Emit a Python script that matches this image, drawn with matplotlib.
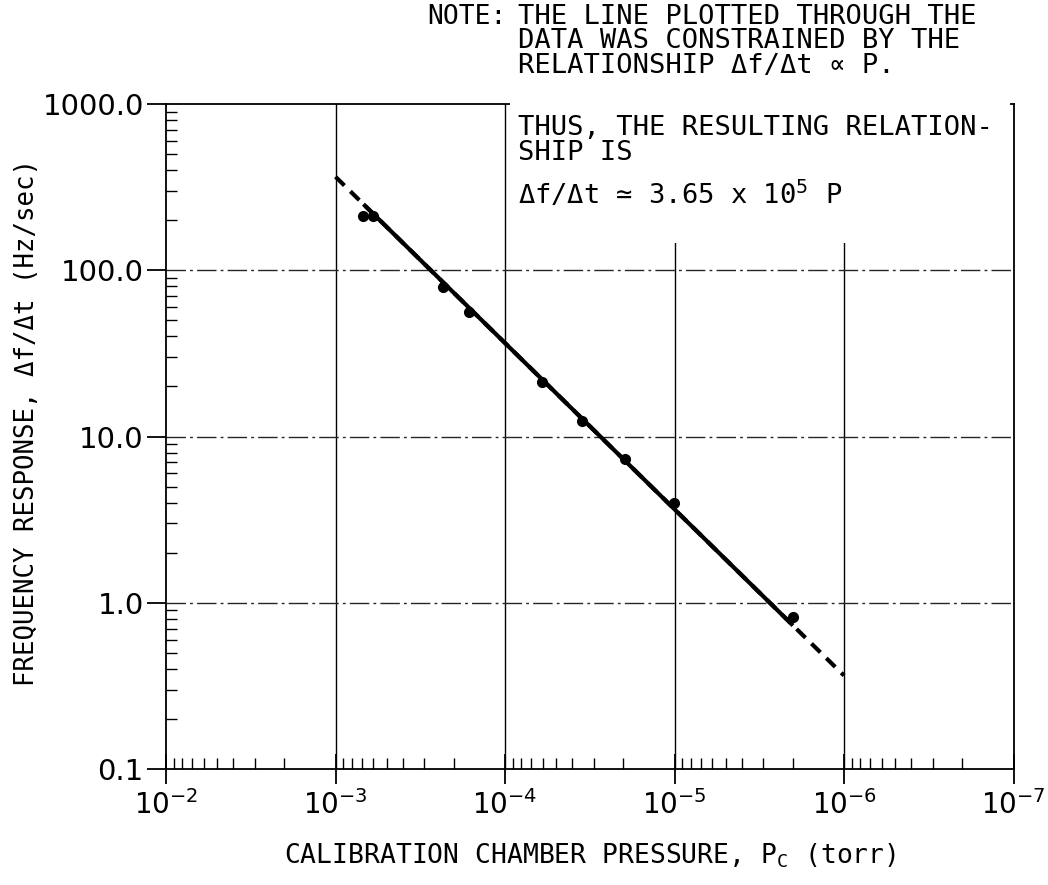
import matplotlib
matplotlib.use("Agg")
import matplotlib.pyplot as plt
import numpy as np
from matplotlib.ticker import FixedLocator, FuncFormatter, LogLocator, NullFormatter
from matplotlib.patches import Rectangle

# measured points (pressure in torr, response in Hz/sec)
pressure = [6.84e-4, 5.97e-4, 2.33e-4, 1.62e-4, 6.04e-5, 3.49e-5, 1.95e-5, 1.01e-5, 2.0e-6]
response = [212.0, 212.0, 79.0, 56.0, 21.3, 12.4, 7.3, 4.0, 0.82]

# constrained fit  df/dt = k * P
k_fit = 3.65e5
fit_range = [1e-3, 1e-6]

x_ticks = [1e-2, 1e-3, 1e-4, 1e-5, 1e-6, 1e-7]
y_ticks = [0.1, 1.0, 10.0, 100.0, 1000.0]

note_lines = [
    "THE LINE PLOTTED THROUGH THE",
    "DATA WAS CONSTRAINED BY THE",
    "RELATIONSHIP \u0394f/\u0394t \u221d P.",
]
result_lines = [
    "THUS, THE RESULTING RELATION-",
    "SHIP IS",
]

mono = ["DejaVu Sans Mono", "DejaVu Sans"]
plt.rcParams["mathtext.fontset"] = "dejavusans"

fig = plt.figure(figsize=(10.48, 8.85), dpi=100)
W, H = 1048.0, 885.0
ax = fig.add_axes([166 / W, 1 - 769 / H, (1013.5 - 166) / W, (769 - 104) / H])

ax.set_xscale("log")
ax.set_yscale("log")
ax.set_xlim(1e-2, 1e-7)
ax.set_ylim(0.1, 1000.0)

# fitted line: dashed over full range, solid over the data
p_full = np.array(fit_range)
ax.plot(p_full, k_fit * p_full, color="black", lw=3, ls=(0, (3, 2)), zorder=3)
p_data = np.array([max(pressure), min(pressure)])
ax.plot(p_data, k_fit * p_data, color="black", lw=3, solid_capstyle="butt", zorder=4)
ax.plot(pressure, response, "o", color="black", ms=7, zorder=5)

# grid: solid verticals, broken horizontals
for xv in x_ticks[1:-1]:
    ax.axvline(xv, color="black", lw=1.0, zorder=1)
for yv in y_ticks[1:-1]:
    ax.axhline(yv, color="0.15", lw=1.0, ls=(0, (14, 3, 2, 3)), zorder=1)

ax.xaxis.set_major_locator(FixedLocator(x_ticks))
ax.xaxis.set_minor_locator(LogLocator(base=10, subs=np.arange(2, 10), numticks=20))
ax.xaxis.set_minor_formatter(NullFormatter())
ax.xaxis.set_major_formatter(FuncFormatter(lambda v, p: r"$10^{%d}$" % int(round(np.log10(v)))))
ax.yaxis.set_major_locator(FixedLocator(y_ticks))
ax.yaxis.set_minor_locator(LogLocator(base=10, subs=np.arange(2, 10), numticks=20))
ax.yaxis.set_minor_formatter(NullFormatter())
ax.yaxis.set_major_formatter(FuncFormatter(lambda v, p: "%.1f" % v))

ax.tick_params(axis="x", which="major", direction="inout", length=22, width=1.3,
               labelsize=20, pad=4, top=False)
ax.tick_params(axis="x", which="minor", direction="in", length=8, width=1.0, top=False)
ax.tick_params(axis="y", which="major", direction="out", length=14, width=1.3,
               labelsize=21, pad=2, right=False)
ax.tick_params(axis="y", which="minor", direction="in", length=8, width=1.0, right=False)
for lab in ax.get_yticklabels():
    lab.set_family("DejaVu Sans")

for s in ax.spines.values():
    s.set_linewidth(1.3)

# white area behind the second part of the note
ax.add_patch(Rectangle((0.406, 0.791), 0.59, 0.215, transform=ax.transAxes,
                       facecolor="white", edgecolor="none", zorder=2.6, clip_on=False))

ax.set_xlabel("CALIBRATION CHAMBER PRESSURE, P$_\\mathregular{C}$ (torr)",
              family=mono, fontsize=19, labelpad=16)
fig.text(27 / W, 1 - 422 / H, "FREQUENCY RESPONSE, \u0394f/\u0394t (Hz/sec)",
         family=mono, fontsize=18.5, rotation=90, ha="center", va="center")

fig.text(507 / W, 1 - 17 / H, "NOTE:", family=mono, fontsize=19, va="center", ha="right")
for i, line in enumerate(note_lines):
    fig.text(518 / W, 1 - (17 + 24.5 * i) / H, line, family=mono, fontsize=19.5, va="center")
for i, line in enumerate(result_lines):
    fig.text(518 / W, 1 - (128 + 25 * i) / H, line, family=mono, fontsize=19.5,
             va="center", zorder=5)
fig.text(518 / W, 1 - 195 / H, "\u0394f/\u0394t \u2243 3.65 x 10$^{5}$ P",
         family=mono, fontsize=19.5, va="center", zorder=5)

fig.savefig("out.png", dpi=100)
